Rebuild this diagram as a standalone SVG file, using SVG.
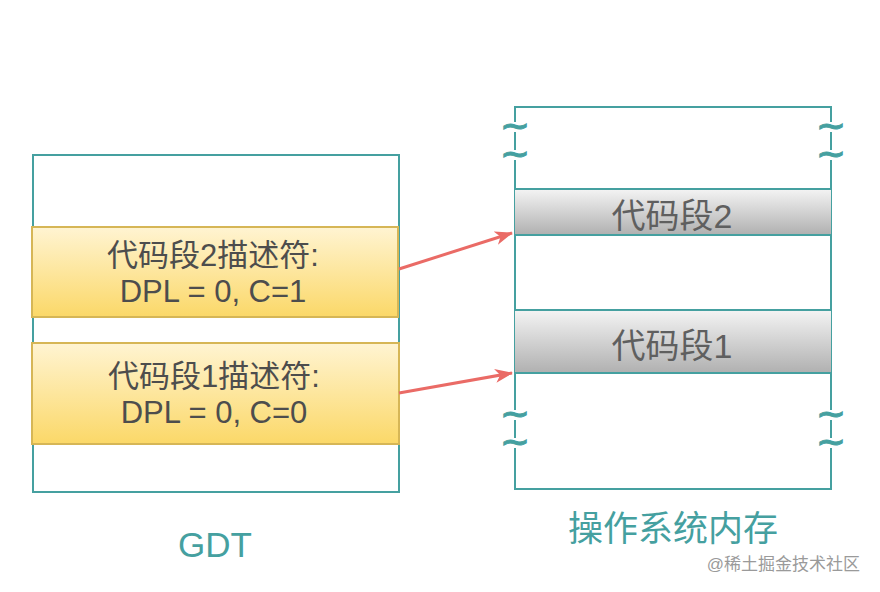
<svg xmlns="http://www.w3.org/2000/svg" width="880" height="592" viewBox="0 0 880 592">
<defs>
<linearGradient id="yellow" x1="0" y1="0" x2="0" y2="1">
<stop offset="0" stop-color="#fff4d2"/>
<stop offset="1" stop-color="#fbd868"/>
</linearGradient>
<linearGradient id="gray" x1="0" y1="0" x2="0" y2="1">
<stop offset="0" stop-color="#f4f4f4"/>
<stop offset="1" stop-color="#b0b0b0"/>
</linearGradient>
<marker id="arrow" markerWidth="18" markerHeight="14" refX="17" refY="7" orient="auto" markerUnits="userSpaceOnUse" viewBox="0 0 18 14">
<path d="M0,0 L18,7 L0,14 L5,7 Z" fill="#ea6b66"/>
</marker>
</defs>
<style>
.teal{fill:none;stroke:#45a0a0;stroke-width:2}
.ylw{fill:url(#yellow);stroke:#d6b656;stroke-width:2}
.gry{fill:url(#gray);stroke:none}
.txt{font-family:"Liberation Sans","Noto Sans CJK SC",sans-serif;font-size:31px;fill:#4d4d4d;text-anchor:middle}
.seg{font-family:"Liberation Sans","Noto Sans CJK SC",sans-serif;font-size:34px;fill:#5f5f5f;text-anchor:middle}
.lbl{font-family:"Liberation Sans","Noto Sans CJK SC",sans-serif;font-size:35px;fill:#45a0a0;text-anchor:middle}
.tld{font-family:"DejaVu Sans",sans-serif;font-size:26px;font-weight:bold;fill:#45a0a0;stroke:#45a0a0;stroke-width:0.8;text-anchor:middle}
.conn{stroke:#ea6b66;stroke-width:3;fill:none}
</style>
<rect width="880" height="592" fill="#ffffff"/>

<g id="gdt">
<rect class="teal" x="33" y="155" width="366" height="337"/>
</g>
<g id="desc2">
<rect class="ylw" x="32" y="227" width="366" height="90"/>
<text class="txt" x="213" y="266">代码段2描述符:</text>
<text class="txt" x="213" y="302">DPL = 0, C=1</text>
</g>
<g id="desc1">
<rect class="ylw" x="32" y="343" width="367" height="101"/>
<text class="txt" x="214" y="387">代码段1描述符:</text>
<text class="txt" x="214" y="423">DPL = 0, C=0</text>
</g>

<g id="memory">
<line class="teal" x1="515" y1="107" x2="831" y2="107"/>
<line class="teal" x1="515" y1="489" x2="831" y2="489"/>
<path class="teal" d="M515,106 V122 M515,132 V150 M515,160 V410 M515,420 V438 M515,448 V490"/>
<path class="teal" d="M831,106 V122 M831,132 V150 M831,160 V410 M831,420 V438 M831,448 V490"/>
<text class="tld" x="515" y="135" textLength="30" lengthAdjust="spacingAndGlyphs">~</text>
<text class="tld" x="515" y="163" textLength="30" lengthAdjust="spacingAndGlyphs">~</text>
<text class="tld" x="515" y="423" textLength="30" lengthAdjust="spacingAndGlyphs">~</text>
<text class="tld" x="515" y="451" textLength="30" lengthAdjust="spacingAndGlyphs">~</text>
<text class="tld" x="831" y="135" textLength="30" lengthAdjust="spacingAndGlyphs">~</text>
<text class="tld" x="831" y="163" textLength="30" lengthAdjust="spacingAndGlyphs">~</text>
<text class="tld" x="831" y="423" textLength="30" lengthAdjust="spacingAndGlyphs">~</text>
<text class="tld" x="831" y="451" textLength="30" lengthAdjust="spacingAndGlyphs">~</text>
</g>
<g id="seg2">
<rect class="gry" x="515" y="189" width="316" height="46"/>
<line class="teal" x1="515" y1="189" x2="831" y2="189"/>
<line class="teal" x1="515" y1="235" x2="831" y2="235"/>
<text class="seg" x="672" y="228">代码段2</text>
</g>
<g id="seg1">
<rect class="gry" x="515" y="310" width="316" height="63"/>
<line class="teal" x1="515" y1="310" x2="831" y2="310"/>
<line class="teal" x1="515" y1="373" x2="831" y2="373"/>
<text class="seg" x="672" y="358">代码段1</text>
</g>

<g id="connectors">
<line class="conn" x1="399" y1="269" x2="512" y2="233" marker-end="url(#arrow)"/>
<line class="conn" x1="399" y1="393" x2="512" y2="373" marker-end="url(#arrow)"/>
</g>

<g id="labels">
<text class="lbl" x="215" y="557">GDT</text>
<text class="lbl" x="673" y="541">操作系统内存</text>
<text x="860" y="570" style="font-family:'Liberation Sans','Noto Sans CJK SC',sans-serif;font-size:17px;fill:#9a9a9a;text-anchor:end">@稀土掘金技术社区</text>
</g>
</svg>
